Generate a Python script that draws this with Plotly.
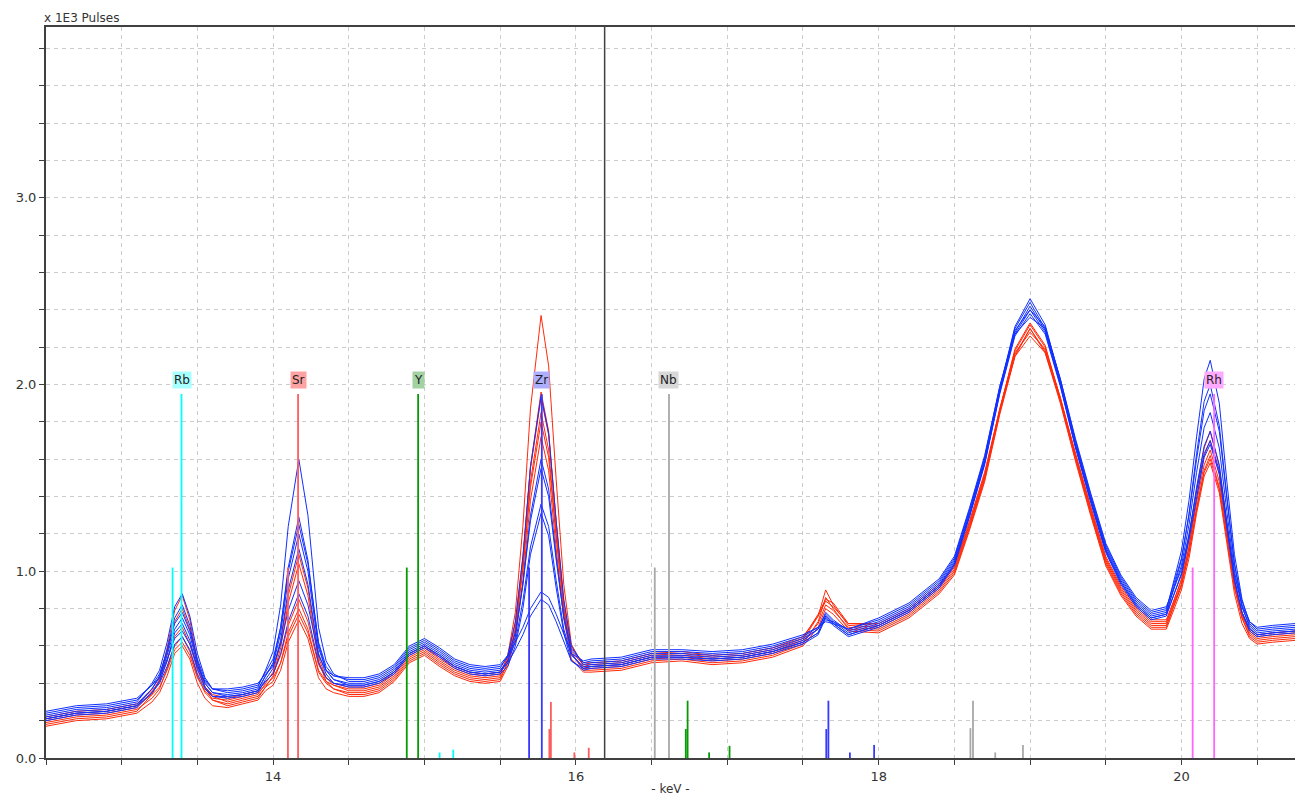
import plotly.graph_objects as go

# ---------------- data ----------------
energy_kev = [12.5, 12.7, 12.9, 13.1,
              13.2, 13.25, 13.3, 13.35, 13.4, 13.45, 13.5, 13.55, 13.6,
              13.7, 13.8, 13.9,
              13.95, 14.0, 14.05, 14.1, 14.17, 14.23, 14.3, 14.35, 14.4, 14.5,
              14.6, 14.7, 14.8, 14.9, 15.0, 15.1, 15.2, 15.3, 15.4, 15.5,
              15.55, 15.6, 15.65, 15.7, 15.77, 15.82, 15.87, 15.92, 15.97, 16.05,
              16.1, 16.3, 16.5, 16.7, 16.9, 17.1, 17.3, 17.5,
              17.6, 17.65, 17.7, 17.8,
              18.0, 18.2, 18.4, 18.5, 18.6, 18.7, 18.8, 18.9, 19.0, 19.1, 19.2, 19.3,
              19.4, 19.5, 19.6, 19.7, 19.8, 19.9,
              20.0, 20.05, 20.1, 20.15, 20.19, 20.25, 20.3, 20.35, 20.4, 20.45,
              20.5, 20.6, 20.75]

spec_r1 = [0.20, 0.23, 0.24, 0.27,
           0.35, 0.42, 0.56, 0.73, 0.80, 0.69, 0.50, 0.38, 0.33,
           0.30, 0.32, 0.34,
           0.40, 0.46, 0.62, 0.87, 1.09, 0.91, 0.54, 0.43, 0.39, 0.36,
           0.36, 0.38, 0.44, 0.54, 0.58, 0.52, 0.47, 0.44, 0.43, 0.44,
           0.55, 0.78, 1.24, 1.87, 2.37, 2.10, 1.49, 0.93, 0.61, 0.49,
           0.49, 0.50, 0.54, 0.55, 0.53, 0.54, 0.57, 0.63,
           0.76, 0.90, 0.82, 0.71,
           0.70, 0.78, 0.91, 1.01, 1.25, 1.51, 1.87, 2.18, 2.32, 2.20, 1.93, 1.62,
           1.33, 1.06, 0.90, 0.79, 0.72, 0.72,
           0.96, 1.17, 1.44, 1.66, 1.75, 1.56, 1.25, 0.95, 0.77, 0.67,
           0.64, 0.65, 0.66]
spec_r2 = [0.18, 0.21, 0.22, 0.25,
           0.34, 0.42, 0.59, 0.79, 0.87, 0.74, 0.52, 0.38, 0.31,
           0.28, 0.30, 0.32,
           0.38, 0.44, 0.59, 0.83, 1.04, 0.87, 0.52, 0.41, 0.37, 0.34,
           0.34, 0.36, 0.42, 0.52, 0.56, 0.50, 0.45, 0.42, 0.41, 0.42,
           0.51, 0.69, 1.06, 1.56, 1.96, 1.75, 1.26, 0.81, 0.56, 0.47,
           0.47, 0.48, 0.52, 0.53, 0.51, 0.52, 0.55, 0.61,
           0.73, 0.86, 0.80, 0.69,
           0.68, 0.76, 0.89, 0.99, 1.23, 1.49, 1.85, 2.16, 2.30, 2.18, 1.91, 1.60,
           1.31, 1.04, 0.88, 0.77, 0.70, 0.70,
           0.93, 1.13, 1.40, 1.62, 1.70, 1.52, 1.22, 0.92, 0.75, 0.65,
           0.62, 0.63, 0.64]
spec_r3 = [0.22, 0.25, 0.26, 0.29,
           0.36, 0.41, 0.52, 0.65, 0.70, 0.61, 0.47, 0.38, 0.34,
           0.32, 0.34, 0.36,
           0.41, 0.45, 0.55, 0.71, 0.85, 0.73, 0.50, 0.43, 0.40, 0.38,
           0.38, 0.40, 0.46, 0.56, 0.60, 0.54, 0.49, 0.46, 0.45, 0.46,
           0.54, 0.72, 1.07, 1.55, 1.93, 1.73, 1.26, 0.84, 0.59, 0.51,
           0.51, 0.52, 0.56, 0.57, 0.55, 0.56, 0.59, 0.65,
           0.76, 0.84, 0.81, 0.72,
           0.72, 0.80, 0.93, 1.03, 1.27, 1.53, 1.87, 2.17, 2.28, 2.19, 1.93, 1.63,
           1.35, 1.08, 0.92, 0.81, 0.74, 0.74,
           0.95, 1.13, 1.37, 1.57, 1.65, 1.48, 1.21, 0.94, 0.78, 0.69,
           0.66, 0.67, 0.68]
spec_r4 = [0.19, 0.22, 0.23, 0.26,
           0.32, 0.37, 0.48, 0.60, 0.65, 0.57, 0.44, 0.35, 0.31,
           0.29, 0.31, 0.33,
           0.38, 0.41, 0.51, 0.67, 0.80, 0.69, 0.46, 0.40, 0.37, 0.35,
           0.35, 0.37, 0.43, 0.53, 0.57, 0.51, 0.46, 0.43, 0.42, 0.43,
           0.51, 0.68, 1.02, 1.48, 1.85, 1.65, 1.20, 0.79, 0.56, 0.48,
           0.48, 0.49, 0.53, 0.54, 0.52, 0.53, 0.56, 0.62,
           0.72, 0.82, 0.79, 0.70,
           0.69, 0.77, 0.90, 1.00, 1.24, 1.50, 1.86, 2.19, 2.33, 2.21, 1.92, 1.61,
           1.32, 1.05, 0.89, 0.78, 0.71, 0.71,
           0.92, 1.10, 1.34, 1.54, 1.62, 1.45, 1.18, 0.91, 0.75, 0.66,
           0.63, 0.64, 0.65]
spec_r5 = [0.21, 0.24, 0.25, 0.28,
           0.34, 0.38, 0.47, 0.58, 0.62, 0.55, 0.43, 0.36, 0.32,
           0.31, 0.33, 0.35,
           0.39, 0.43, 0.51, 0.65, 0.77, 0.67, 0.47, 0.41, 0.39, 0.37,
           0.37, 0.39, 0.45, 0.55, 0.59, 0.53, 0.48, 0.45, 0.44, 0.45,
           0.53, 0.69, 1.01, 1.45, 1.80, 1.61, 1.18, 0.80, 0.57, 0.50,
           0.50, 0.51, 0.55, 0.56, 0.54, 0.55, 0.58, 0.64,
           0.77, 0.85, 0.83, 0.72,
           0.71, 0.79, 0.92, 1.02, 1.26, 1.52, 1.86, 2.15, 2.26, 2.17, 1.92, 1.63,
           1.34, 1.07, 0.91, 0.80, 0.73, 0.73,
           0.93, 1.10, 1.33, 1.53, 1.60, 1.44, 1.18, 0.92, 0.76, 0.68,
           0.65, 0.66, 0.67]
spec_r6 = [0.17, 0.20, 0.21, 0.24,
           0.30, 0.35, 0.44, 0.56, 0.60, 0.53, 0.40, 0.32, 0.28,
           0.27, 0.29, 0.31,
           0.36, 0.39, 0.47, 0.62, 0.74, 0.64, 0.43, 0.37, 0.35, 0.33,
           0.33, 0.35, 0.41, 0.51, 0.55, 0.49, 0.44, 0.41, 0.40, 0.41,
           0.49, 0.64, 0.95, 1.38, 1.72, 1.54, 1.12, 0.75, 0.53, 0.46,
           0.46, 0.47, 0.51, 0.52, 0.50, 0.51, 0.54, 0.60,
           0.70, 0.80, 0.77, 0.68,
           0.67, 0.75, 0.88, 0.98, 1.22, 1.48, 1.84, 2.15, 2.30, 2.17, 1.90, 1.59,
           1.30, 1.03, 0.87, 0.76, 0.69, 0.69,
           0.90, 1.07, 1.31, 1.51, 1.58, 1.42, 1.15, 0.88, 0.72, 0.64,
           0.61, 0.62, 0.63]

spec_b1 = [0.23, 0.26, 0.27, 0.30,
           0.40, 0.47, 0.62, 0.81, 0.88, 0.76, 0.56, 0.43, 0.37,
           0.35, 0.36, 0.38,
           0.47, 0.57, 0.82, 1.24, 1.60, 1.30, 0.70, 0.52, 0.45, 0.41,
           0.41, 0.43, 0.48, 0.58, 0.62, 0.57, 0.51, 0.48, 0.47, 0.48,
           0.55, 0.73, 1.08, 1.56, 1.94, 1.74, 1.27, 0.85, 0.60, 0.50,
           0.51, 0.52, 0.56, 0.56, 0.55, 0.56, 0.59, 0.64,
           0.69, 0.78, 0.74, 0.68,
           0.73, 0.81, 0.94, 1.06, 1.32, 1.60, 1.98, 2.31, 2.46, 2.32, 2.02, 1.69,
           1.40, 1.13, 0.96, 0.84, 0.77, 0.79,
           1.11, 1.38, 1.72, 2.03, 2.13, 1.90, 1.48, 1.09, 0.85, 0.72,
           0.68, 0.69, 0.70]
spec_b2 = [0.21, 0.24, 0.25, 0.28,
           0.37, 0.44, 0.58, 0.75, 0.82, 0.71, 0.52, 0.40, 0.35,
           0.33, 0.34, 0.36,
           0.44, 0.51, 0.70, 1.02, 1.29, 1.06, 0.61, 0.47, 0.42, 0.39,
           0.39, 0.41, 0.46, 0.56, 0.60, 0.55, 0.49, 0.46, 0.45, 0.46,
           0.52, 0.65, 0.93, 1.30, 1.60, 1.44, 1.08, 0.75, 0.56, 0.48,
           0.49, 0.50, 0.54, 0.54, 0.53, 0.54, 0.57, 0.62,
           0.67, 0.76, 0.72, 0.66,
           0.71, 0.79, 0.92, 1.04, 1.30, 1.58, 1.96, 2.28, 2.42, 2.29, 2.00, 1.67,
           1.38, 1.11, 0.94, 0.82, 0.75, 0.77,
           1.06, 1.31, 1.63, 1.91, 2.00, 1.78, 1.40, 1.04, 0.81, 0.70,
           0.66, 0.67, 0.68]
spec_b3 = [0.24, 0.27, 0.28, 0.31,
           0.39, 0.45, 0.57, 0.72, 0.78, 0.68, 0.53, 0.42, 0.37,
           0.36, 0.37, 0.39,
           0.46, 0.53, 0.70, 1.00, 1.25, 1.04, 0.62, 0.49, 0.44, 0.42,
           0.42, 0.44, 0.49, 0.59, 0.63, 0.58, 0.52, 0.49, 0.48, 0.49,
           0.54, 0.67, 0.93, 1.27, 1.55, 1.40, 1.06, 0.76, 0.58, 0.51,
           0.52, 0.53, 0.57, 0.57, 0.56, 0.57, 0.60, 0.65,
           0.70, 0.74, 0.73, 0.69,
           0.74, 0.82, 0.95, 1.07, 1.33, 1.61, 1.99, 2.29, 2.40, 2.31, 2.03, 1.70,
           1.41, 1.14, 0.97, 0.85, 0.78, 0.80,
           1.07, 1.30, 1.60, 1.86, 1.95, 1.75, 1.39, 1.04, 0.84, 0.73,
           0.69, 0.70, 0.71]
spec_b4 = [0.22, 0.25, 0.26, 0.29,
           0.37, 0.43, 0.55, 0.69, 0.75, 0.66, 0.50, 0.40, 0.35,
           0.34, 0.35, 0.37,
           0.44, 0.50, 0.67, 0.96, 1.20, 1.00, 0.59, 0.47, 0.42, 0.40,
           0.40, 0.42, 0.47, 0.57, 0.61, 0.56, 0.50, 0.47, 0.46, 0.47,
           0.52, 0.62, 0.84, 1.13, 1.36, 1.24, 0.95, 0.69, 0.55, 0.49,
           0.50, 0.51, 0.55, 0.55, 0.54, 0.55, 0.58, 0.63,
           0.69, 0.77, 0.73, 0.67,
           0.72, 0.80, 0.93, 1.05, 1.31, 1.59, 1.97, 2.30, 2.44, 2.30, 2.01, 1.68,
           1.39, 1.12, 0.95, 0.83, 0.76, 0.78,
           1.03, 1.25, 1.53, 1.77, 1.85, 1.66, 1.32, 1.00, 0.81, 0.71,
           0.67, 0.68, 0.69]
spec_b5 = [0.20, 0.23, 0.24, 0.27,
           0.35, 0.41, 0.52, 0.67, 0.72, 0.63, 0.48, 0.38, 0.33,
           0.32, 0.33, 0.35,
           0.42, 0.48, 0.63, 0.90, 1.12, 0.93, 0.56, 0.45, 0.40, 0.38,
           0.38, 0.40, 0.45, 0.55, 0.59, 0.54, 0.48, 0.45, 0.44, 0.45,
           0.49, 0.60, 0.80, 1.09, 1.31, 1.19, 0.91, 0.67, 0.52, 0.47,
           0.48, 0.49, 0.53, 0.53, 0.52, 0.53, 0.56, 0.61,
           0.66, 0.75, 0.71, 0.65,
           0.70, 0.78, 0.91, 1.03, 1.29, 1.57, 1.95, 2.26, 2.38, 2.27, 1.99, 1.66,
           1.37, 1.10, 0.93, 0.81, 0.74, 0.76,
           0.99, 1.19, 1.45, 1.67, 1.75, 1.57, 1.26, 0.96, 0.78, 0.68,
           0.65, 0.66, 0.67]
spec_b6 = [0.25, 0.28, 0.29, 0.32,
           0.39, 0.43, 0.53, 0.64, 0.68, 0.61, 0.49, 0.41, 0.37,
           0.37, 0.38, 0.40,
           0.45, 0.49, 0.61, 0.79, 0.95, 0.82, 0.55, 0.47, 0.44, 0.43,
           0.43, 0.45, 0.50, 0.60, 0.64, 0.59, 0.53, 0.50, 0.49, 0.50,
           0.55, 0.62, 0.70, 0.80, 0.89, 0.86, 0.77, 0.66, 0.56, 0.52,
           0.53, 0.54, 0.58, 0.58, 0.57, 0.58, 0.61, 0.66,
           0.70, 0.73, 0.72, 0.69,
           0.75, 0.83, 0.96, 1.08, 1.34, 1.62, 1.99, 2.27, 2.36, 2.30, 2.03, 1.71,
           1.42, 1.15, 0.98, 0.86, 0.79, 0.81,
           1.01, 1.20, 1.43, 1.63, 1.70, 1.54, 1.25, 0.98, 0.82, 0.73,
           0.70, 0.71, 0.72]
spec_b7 = [0.21, 0.24, 0.25, 0.28,
           0.35, 0.40, 0.49, 0.61, 0.65, 0.58, 0.45, 0.37, 0.33,
           0.33, 0.34, 0.36,
           0.41, 0.45, 0.56, 0.73, 0.88, 0.76, 0.51, 0.43, 0.40, 0.39,
           0.39, 0.41, 0.46, 0.56, 0.60, 0.55, 0.49, 0.46, 0.45, 0.46,
           0.51, 0.58, 0.66, 0.76, 0.85, 0.82, 0.73, 0.62, 0.52, 0.48,
           0.49, 0.50, 0.54, 0.54, 0.53, 0.54, 0.57, 0.62,
           0.67, 0.76, 0.72, 0.66,
           0.71, 0.79, 0.92, 1.04, 1.30, 1.58, 1.96, 2.27, 2.40, 2.28, 2.00, 1.67,
           1.38, 1.11, 0.94, 0.82, 0.75, 0.77,
           0.98, 1.17, 1.40, 1.61, 1.68, 1.52, 1.23, 0.95, 0.78, 0.69,
           0.66, 0.67, 0.68]

red_spectra = [spec_r1, spec_r2, spec_r3, spec_r4, spec_r5, spec_r6]
blue_spectra = [spec_b1, spec_b2, spec_b3, spec_b4, spec_b5, spec_b6, spec_b7]

# element marker lines (keV, height in 1E3 pulses)
element_names = ["Rb", "Sr", "Y", "Zr", "Nb", "Rh"]
rb_kev = [13.395, 13.336, 15.10, 15.19]
rb_h = [1.95, 1.02, 0.03, 0.045]
sr_kev = [14.165, 14.098, 15.835, 15.825, 15.99, 16.085]
sr_h = [1.95, 1.02, 0.30, 0.155, 0.03, 0.055]
y_kev = [14.958, 14.883, 16.738, 16.726, 16.88, 17.015]
y_h = [1.95, 1.02, 0.307, 0.155, 0.03, 0.065]
zr_kev = [15.775, 15.691, 17.668, 17.654, 17.81, 17.97]
zr_h = [1.95, 1.02, 0.307, 0.155, 0.03, 0.07]
nb_kev = [16.615, 16.521, 18.623, 18.606, 18.77, 18.953]
nb_h = [1.95, 1.02, 0.307, 0.16, 0.03, 0.07]
rh_kev = [20.216, 20.074]
rh_h = [1.95, 1.02]
label_y = 2.025
cursor_kev = 16.19

# ---------------- styles ----------------
RED = "#ff2a0a"
BLUE = "#1030ff"
line_colors = {"Rb": "#00ffff", "Sr": "#ff5c5c", "Y": "#069a06",
               "Zr": "#3838ff", "Nb": "#a8a8a8", "Rh": "#ff66ff"}
label_colors = {"Rb": "#a8ffff", "Sr": "#ffa2a2", "Y": "#a2d2a2",
                "Zr": "#aeaeff", "Nb": "#d8d8d8", "Rh": "#ffa8ff"}
element_data = {"Rb": (rb_kev, rb_h), "Sr": (sr_kev, sr_h), "Y": (y_kev, y_h),
                "Zr": (zr_kev, zr_h), "Nb": (nb_kev, nb_h), "Rh": (rh_kev, rh_h)}
FONT = "DejaVu Sans"

for s in red_spectra + blue_spectra:
    assert len(s) == len(energy_kev)

fig = go.Figure()
for s in red_spectra:
    fig.add_trace(go.Scatter(x=energy_kev, y=s, mode="lines",
                             line=dict(color=RED, width=1), hoverinfo="skip"))
for s in blue_spectra:
    fig.add_trace(go.Scatter(x=energy_kev, y=s, mode="lines",
                             line=dict(color=BLUE, width=1), hoverinfo="skip"))

for name in element_names:
    kev, hts = element_data[name]
    xs, ys = [], []
    for e, h in zip(kev, hts):
        xs += [e, e, None]
        ys += [0, h, None]
    fig.add_trace(go.Scatter(x=xs, y=ys, mode="lines",
                             line=dict(color=line_colors[name], width=1.8),
                             hoverinfo="skip"))
    fig.add_annotation(x=kev[0], y=label_y, text=name, showarrow=False,
                       bgcolor=label_colors[name], borderpad=1,
                       font=dict(family=FONT, size=12, color="#222222"))

fig.add_shape(type="line", xref="x", yref="paper", x0=cursor_kev, x1=cursor_kev,
              y0=0, y1=1, line=dict(color="#404040", width=1.5))

fig.add_annotation(xref="paper", yref="paper", x=0, y=1, xanchor="left",
                   yanchor="bottom", xshift=-4, yshift=0, showarrow=False,
                   text="x 1E3 Pulses", font=dict(family=FONT, size=12, color="#333333"))

grid = dict(gridcolor="#cccccc", griddash="4px,4px", gridwidth=1)
fig.update_layout(
    width=1295, height=800,
    margin=dict(l=46, r=0, t=27, b=42),
    paper_bgcolor="white", plot_bgcolor="white",
    showlegend=False, hovermode=False,
    font=dict(family=FONT, size=12, color="#333333"),
    xaxis=dict(range=[12.5, 20.75], tick0=0, dtick=2, ticks="outside", ticklen=5,
               tickcolor="#404040", showline=True, linecolor="#404040", linewidth=2,
               mirror=True, showgrid=True, zeroline=False, automargin=False,
               tickfont=dict(size=13),
               title=dict(text="- keV -", standoff=2, font=dict(size=12)),
               minor=dict(dtick=0.5, ticks="outside", ticklen=5, tickcolor="#404040",
                          showgrid=True, **grid),
               **grid),
    yaxis=dict(range=[0, 3.915], tick0=0, dtick=1, tickformat=".1f", ticks="outside",
               ticklen=5, tickcolor="#404040", showline=True, linecolor="#404040",
               linewidth=2, showgrid=True, zeroline=False, automargin=False,
               tickfont=dict(size=13),
               minor=dict(dtick=0.2, ticks="outside", ticklen=5, tickcolor="#404040",
                          showgrid=True, **grid),
               **grid),
)

fig.write_html("out.html",
               config={"displayModeBar": False},
               post_script="document.body.style.margin='0px';"
                           "document.body.style.overflow='hidden';")
